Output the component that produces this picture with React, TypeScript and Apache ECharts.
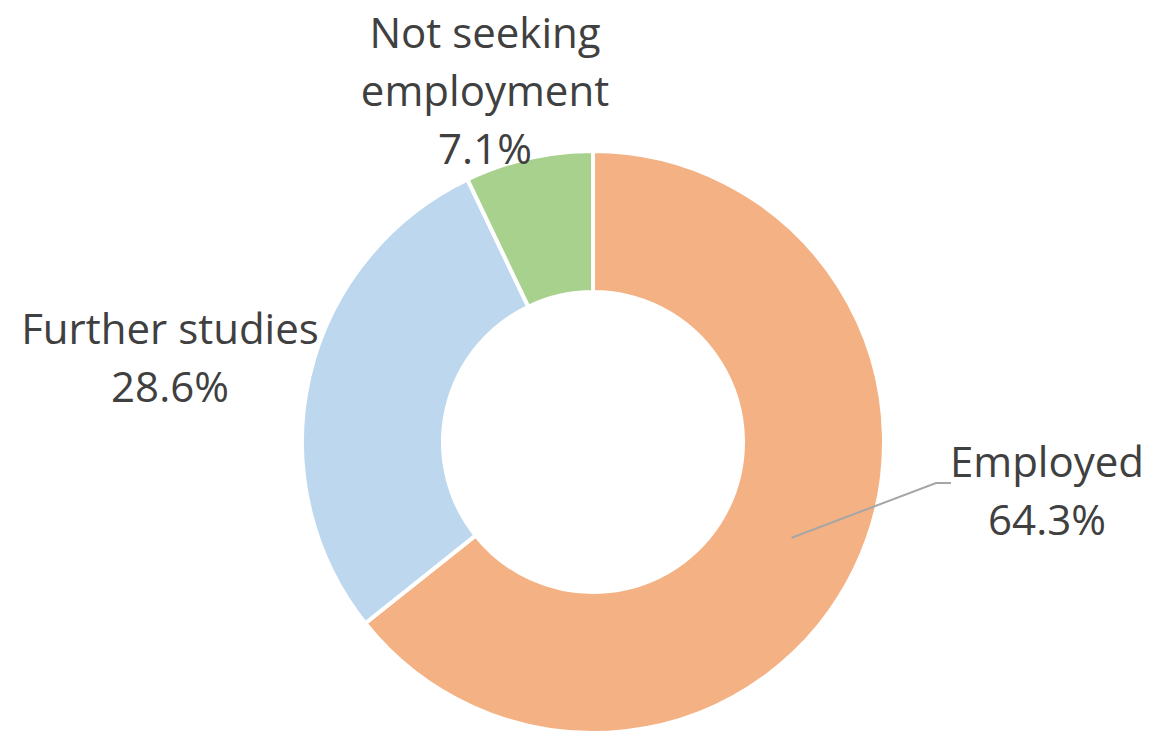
import React, { useEffect, useRef } from "react";
import * as echarts from "echarts";

const categories = ["Employed", "Further studies", "Not seeking\nemployment"];
const values = [64.3, 28.6, 7.1];
const colors = ["#F4B183", "#BDD7EE", "#A9D18E"];
const labelCenters: [number, number][] = [
  [1047, 489],
  [170, 356],
  [485, 89],
];

const CX = 593;
const CY = 442;
const R_IN = 150;
const R_OUT = 291;

export default function App() {
  const ref = useRef<HTMLDivElement>(null);
  useEffect(() => {
    const chart = echarts.init(ref.current!, undefined, { renderer: "svg" });
    const total = values.reduce((a, b) => a + b, 0);

    // leader line for the first slice (Employed), from the slice's middle
    const i0 = 0;
    let before = 0;
    for (let k = 0; k < i0; k++) before += values[k];
    const midFrac = (before + values[i0] / 2) / total;
    const ang = (90 - midFrac * 360) * (Math.PI / 180);
    const rm = (R_IN + R_OUT) / 2;
    const sx = CX + rm * Math.cos(ang);
    const sy = CY - rm * Math.sin(ang);
    const lc = labelCenters[i0];

    chart.setOption({
      animation: false,
      backgroundColor: "#ffffff",
      graphic: [
        {
          type: "polyline",
          z: 100,
          shape: {
            points: [
              [sx, sy],
              [lc[0] - 111, lc[1] - 6],
              [lc[0] - 96, lc[1] - 6],
            ],
          },
          style: { stroke: "#a6a6a6", lineWidth: 2, fill: "none" },
        },
      ],
      series: [
        {
          type: "pie",
          center: [CX, CY],
          radius: [R_IN, R_OUT],
          startAngle: 90,
          clockwise: true,
          itemStyle: { borderColor: "#ffffff", borderWidth: 4 },
          label: {
            show: true,
            formatter: (p: any) => `${p.name}\n${p.value.toFixed(1)}%`,
            fontFamily: "Open Sans",
            fontSize: 42,
            lineHeight: 58,
            color: "#404040",
            align: "center",
            overflow: "none",
          },
          labelLine: { show: false },
          labelLayout: (p: any) => {
            const c = labelCenters[p.dataIndex];
            return { x: c[0], y: c[1], align: "center", verticalAlign: "middle" };
          },
          data: categories.map((name, i) => ({
            name,
            value: values[i],
            itemStyle: { color: colors[i] },
          })),
        },
      ],
    });
    return () => chart.dispose();
  }, []);
  return (
    <div
      ref={ref}
      style={{ position: "fixed", left: 0, top: 0, width: 1165, height: 739 }}
    />
  );
}
